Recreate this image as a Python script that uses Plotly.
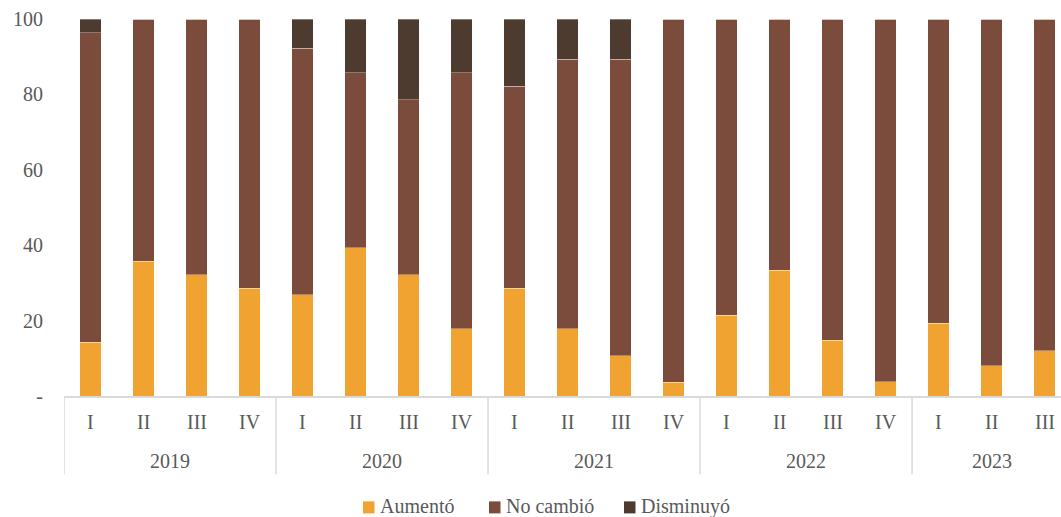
import plotly.graph_objects as go

years = ["2019", "2020", "2021", "2022", "2023"]
quarters = ["I", "II", "III", "IV", "I", "II", "III", "IV", "I", "II", "III", "IV",
            "I", "II", "III", "IV", "I", "II", "III"]
year_of_bar = ["2019"] * 4 + ["2020"] * 4 + ["2021"] * 4 + ["2022"] * 4 + ["2023"] * 3

aumento = [14.3, 35.7, 32.1, 28.6, 26.9, 39.3, 32.1, 17.9, 28.6, 17.9, 10.7, 3.6,
           21.4, 33.3, 14.8, 3.8, 19.3, 8.0, 12.0]
no_cambio = [82.1, 64.3, 67.9, 71.4, 65.4, 46.4, 46.5, 67.8, 53.5, 71.4, 78.6, 96.4,
             78.6, 66.7, 85.2, 96.2, 80.7, 92.0, 88.0]
disminuyo = [3.6, 0, 0, 0, 7.7, 14.3, 21.4, 14.3, 17.9, 10.7, 10.7, 0,
             0, 0, 0, 0, 0, 0, 0]

series_names = ["Aumentó", "No cambió", "Disminuyó"]
series_colors = ["#F0A330", "#7B4B3C", "#4D3B2F"]

y_tickvals = [0, 20, 40, 60, 80, 100]
y_ticktext = ["-", "20", "40", "60", "80", "100"]

FONT = "'Liberation Serif', 'Times New Roman', serif"
TXT = "#595959"
AXIS = "#D9D9D9"

W, H = 1061, 517
ML, MR, MT, MB = 64, 0, 19, 121.3
PW = W - ML - MR
PH = H - MT - MB


def px_to_paper_x(px):
    return (px - ML) / PW


def px_to_paper_y(py):
    return (H - MB - py) / PH


x = list(range(len(quarters)))

fig = go.Figure()
for name, vals, col in zip(series_names, [aumento, no_cambio, disminuyo], series_colors):
    fig.add_trace(go.Bar(
        x=x, y=vals, name=name, width=0.4, showlegend=False,
        marker=dict(color=col, line=dict(color="rgba(255,255,255,0.55)", width=0.6)),
    ))

annotations = []
for i, q in enumerate(quarters):
    annotations.append(dict(x=i, y=px_to_paper_y(422), xref="x", yref="paper", text=q,
                            showarrow=False, yanchor="middle", xanchor="center",
                            font=dict(family=FONT, size=20, color=TXT)))

shapes = []
start = 0
for yr in years:
    n = year_of_bar.count(yr)
    center = start + (n - 1) / 2
    annotations.append(dict(x=center, y=px_to_paper_y(461), xref="x", yref="paper", text=yr,
                            showarrow=False, yanchor="middle", xanchor="center",
                            font=dict(family=FONT, size=20, color=TXT)))
    shapes.append(dict(type="line", xref="x", yref="paper", x0=start - 0.5, x1=start - 0.5,
                       y0=0, y1=px_to_paper_y(474), line=dict(color=AXIS, width=1.5)))
    start += n
shapes.append(dict(type="line", xref="x", yref="paper", x0=start - 0.5, x1=start - 0.5,
                   y0=0, y1=px_to_paper_y(474), line=dict(color=AXIS, width=1.5)))

# legend (drawn manually to match the reference placement)
legend_square_left = [363, 489, 624]
for name, col, sx in zip(series_names, series_colors, legend_square_left):
    shapes.append(dict(type="rect", xref="paper", yref="paper",
                       x0=px_to_paper_x(sx), x1=px_to_paper_x(sx + 11.5),
                       y0=px_to_paper_y(501), y1=px_to_paper_y(513),
                       fillcolor=col, line=dict(width=0)))
    annotations.append(dict(x=px_to_paper_x(sx + 15), y=px_to_paper_y(506), xref="paper",
                            yref="paper", text=name, showarrow=False, xanchor="left",
                            yanchor="middle", font=dict(family=FONT, size=20, color=TXT)))

fig.update_layout(
    barmode="stack",
    width=W, height=H,
    margin=dict(l=ML, r=MR, t=MT, b=MB, autoexpand=False),
    plot_bgcolor="white", paper_bgcolor="white",
    font=dict(family=FONT, size=20, color=TXT),
    annotations=annotations,
    shapes=shapes,
    showlegend=False,
    xaxis=dict(range=[-0.5, 18.31], showticklabels=False, ticks="", showgrid=False,
               zeroline=False, showline=True, linecolor=AXIS, linewidth=1.5, fixedrange=True),
    yaxis=dict(range=[0, 100], tickvals=y_tickvals, ticktext=y_ticktext, showgrid=False,
               zeroline=False, showline=False, ticks="", ticklabelstandoff=20,
               tickfont=dict(family=FONT, size=20, color=TXT), fixedrange=True),
    bargap=0.6,
)

fig.write_html("out.html", config={"displayModeBar": False})
